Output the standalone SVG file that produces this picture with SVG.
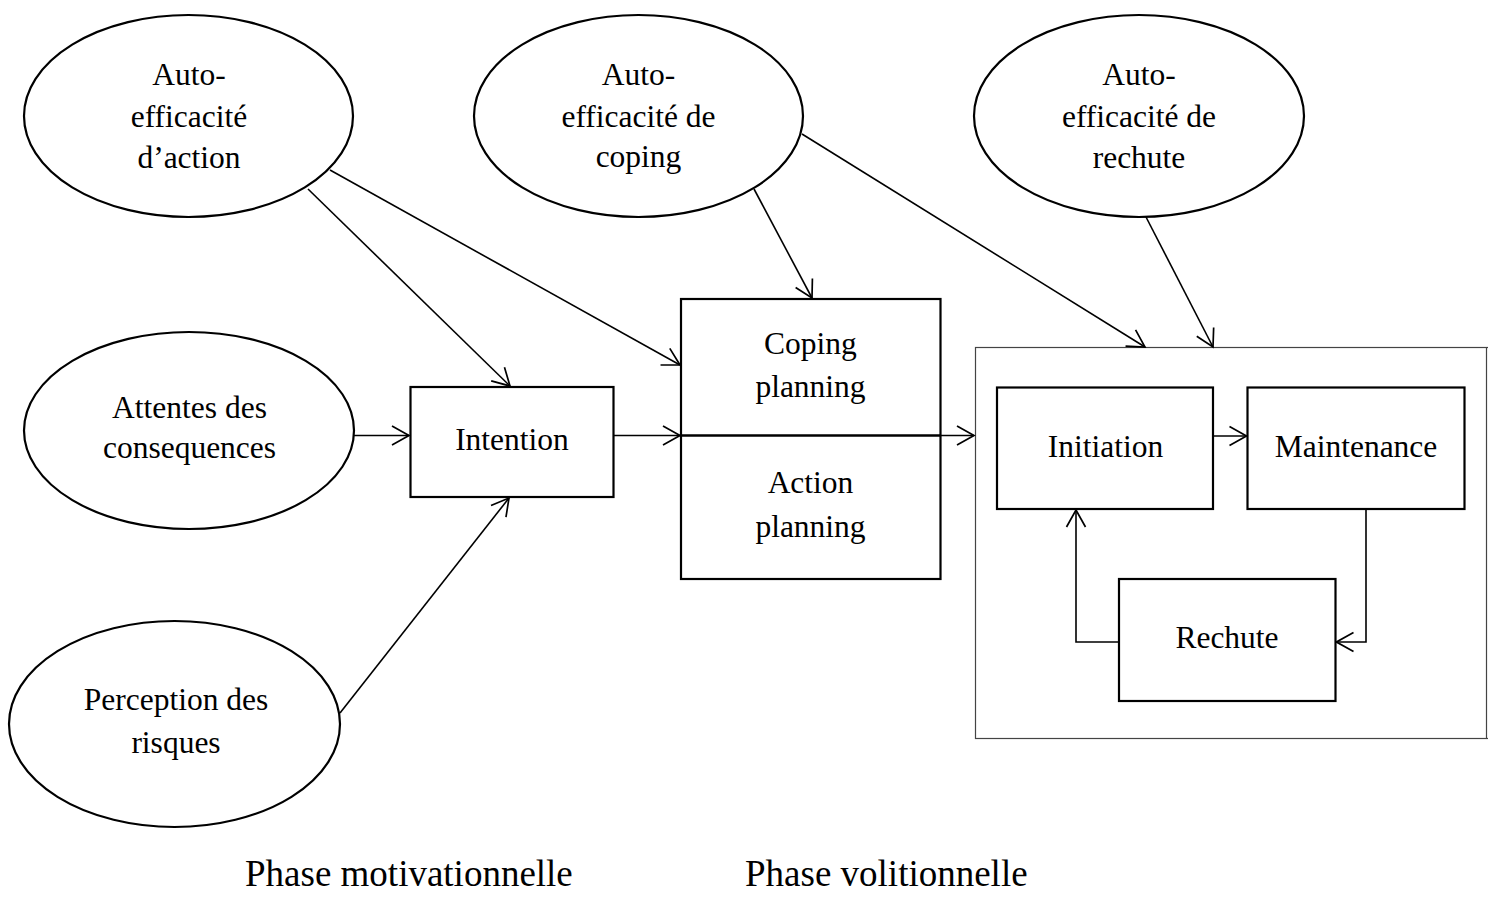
<svg xmlns="http://www.w3.org/2000/svg" width="1488" height="913" viewBox="0 0 1488 913">
<style>
  .node ellipse, .node rect { fill: #fff; stroke: #000; stroke-width: 2.2; }
  .t { font-family: "Liberation Serif", "Times New Roman", serif; font-size: 31.5px; fill: #000; text-anchor: middle; }
  .b { font-family: "Liberation Serif", "Times New Roman", serif; font-size: 37px; fill: #000; }
  .c line, .c polyline { stroke: #000; stroke-width: 1.6; fill: none; }
  .arr { marker-end: url(#ah); }
</style>
<defs>
  <marker id="ah" markerUnits="userSpaceOnUse" viewBox="0 0 20 22" markerWidth="20" markerHeight="22" refX="18" refY="11" orient="auto">
    <path d="M1,1.5 L18,11 L1,20.5" fill="none" stroke="#000" stroke-width="1.7"/>
  </marker>
</defs>
<rect width="1488" height="913" fill="#fff"/>

<g id="volitional-frame">
  <rect x="975.5" y="347.5" width="1511" height="391" fill="none" stroke="#444" stroke-width="1.2"/>
  <line x1="1486.5" y1="347.5" x2="1486.5" y2="738.5" stroke="#444" stroke-width="1.2"/>
</g>

<g id="se-action" class="node">
  <ellipse cx="188.5" cy="116" rx="164.5" ry="101"/>
  <text class="t" x="189" y="85">Auto-</text>
  <text class="t" x="189" y="127">efficacité</text>
  <text class="t" x="189" y="168">d’action</text>
</g>
<g id="se-coping" class="node">
  <ellipse cx="638.5" cy="116" rx="164.5" ry="101"/>
  <text class="t" x="638.5" y="85">Auto-</text>
  <text class="t" x="638.5" y="127">efficacité de</text>
  <text class="t" x="638.5" y="167">coping</text>
</g>
<g id="se-rechute" class="node">
  <ellipse cx="1139" cy="116" rx="165" ry="101"/>
  <text class="t" x="1139" y="85">Auto-</text>
  <text class="t" x="1139" y="127">efficacité de</text>
  <text class="t" x="1139" y="168">rechute</text>
</g>
<g id="attentes" class="node">
  <ellipse cx="189" cy="430.5" rx="165" ry="98.5"/>
  <text class="t" x="189.5" y="418">Attentes des</text>
  <text class="t" x="189.5" y="458">consequences</text>
</g>
<g id="perception" class="node">
  <ellipse cx="174.5" cy="724" rx="165.5" ry="103"/>
  <text class="t" x="176" y="710">Perception des</text>
  <text class="t" x="176" y="753">risques</text>
</g>
<g id="intention" class="node">
  <rect x="410.5" y="387" width="203" height="110"/>
  <text class="t" x="512" y="450">Intention</text>
</g>
<g id="planning" class="node">
  <rect x="681" y="299" width="259.5" height="280"/>
  <line x1="681" y1="435.5" x2="940.5" y2="435.5" stroke="#000" stroke-width="2.4"/>
  <text class="t" x="810.5" y="354">Coping</text>
  <text class="t" x="810.5" y="397">planning</text>
  <text class="t" x="810.5" y="493">Action</text>
  <text class="t" x="810.5" y="537">planning</text>
</g>
<g id="initiation" class="node">
  <rect x="997" y="387.5" width="216" height="121.5"/>
  <text class="t" x="1105.5" y="457">Initiation</text>
</g>
<g id="maintenance" class="node">
  <rect x="1247.5" y="387.5" width="217" height="121.5"/>
  <text class="t" x="1356" y="457">Maintenance</text>
</g>
<g id="rechute" class="node">
  <rect x="1119" y="579" width="216.5" height="122"/>
  <text class="t" x="1227" y="648">Rechute</text>
</g>

<g id="connectors" class="c">
  <line class="arr" x1="308" y1="189" x2="510" y2="386"/>
  <line class="arr" x1="330" y1="170" x2="680" y2="365"/>
  <line class="arr" x1="354" y1="435.5" x2="409" y2="435.5"/>
  <line class="arr" x1="340" y1="713" x2="509" y2="498"/>
  <line class="arr" x1="613.5" y1="435.5" x2="680" y2="435.5"/>
  <line class="arr" x1="754" y1="189" x2="812" y2="298"/>
  <line class="arr" x1="802" y1="134" x2="1145" y2="347"/>
  <line class="arr" x1="1146" y1="217" x2="1213" y2="347"/>
  <line class="arr" x1="940.5" y1="435.5" x2="974" y2="435.5"/>
  <line class="arr" x1="1213" y1="436" x2="1246.5" y2="436"/>
  <polyline class="arr" points="1366,509 1366,642 1336.5,642"/>
  <polyline class="arr" points="1119,642 1076,642 1076,510"/>
</g>

<g id="phase-labels">
  <text class="b" x="245" y="886">Phase motivationnelle</text>
  <text class="b" x="745" y="886">Phase volitionnelle</text>
</g>
</svg>
